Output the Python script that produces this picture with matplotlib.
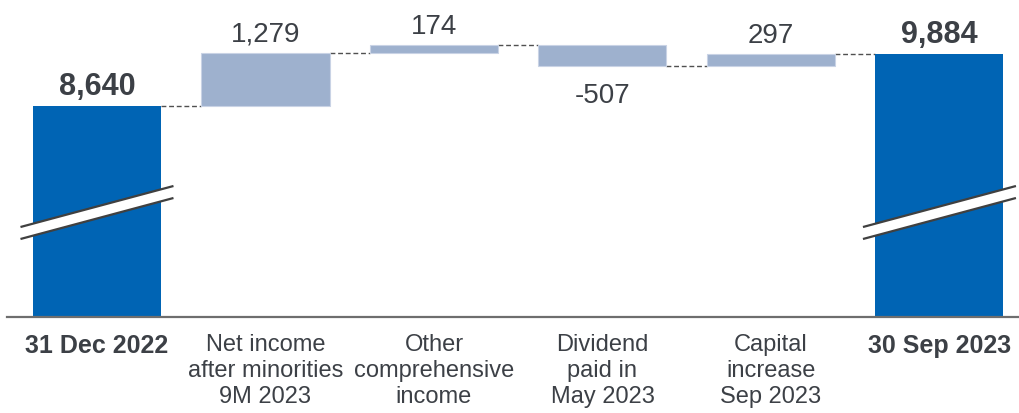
import matplotlib
matplotlib.use("Agg")
import matplotlib.pyplot as plt
from matplotlib.patches import Polygon
import numpy as np

plt.rcParams['font.family'] = ['Liberation Sans', 'DejaVu Sans']

# --- data -------------------------------------------------------------
categories = ["31 Dec 2022", "Net income\nafter minorities\n9M 2023",
              "Other\ncomprehensive\nincome", "Dividend\npaid in\nMay 2023",
              "Capital\nincrease\nSep 2023", "30 Sep 2023"]
start_value = 8640
deltas = [1279, 174, -507, 297]
end_value = 9884
value_labels = ["8,640", "1,279", "174", "-507", "297", "9,884"]

# --- styling ----------------------------------------------------------
BLUE = "#0064B4"
LIGHT = "#9EB1CE"
TEXT = "#3C4046"
W, H = 1020, 413
fig = plt.figure(figsize=(W / 100, H / 100), dpi=100)
ax = fig.add_axes([7 / W, 96 / H, 1013 / W, 317 / H])

y_min, y_max = 3592, 11176
ax.set_ylim(y_min, y_max)
ax.set_xlim(-0.534, 5.478)
bar_w = 0.76

x = np.arange(len(categories))

# totals
ax.bar(x[0], start_value - y_min, bottom=y_min, width=bar_w, color=BLUE, zorder=2)
ax.bar(x[-1], end_value - y_min, bottom=y_min, width=bar_w, color=BLUE, zorder=2)

# floating change bars
levels = [start_value]
for d in deltas:
    levels.append(levels[-1] + d)
for i, d in enumerate(deltas):
    lo = min(levels[i], levels[i + 1])
    ax.bar(x[i + 1], abs(d), bottom=lo, width=bar_w, color=LIGHT,
           edgecolor="#C9D3E5", linewidth=0.8, zorder=2)

# dashed connectors between consecutive bars
for i in range(len(x) - 1):
    lvl = levels[i] if i < len(levels) else end_value
    ax.plot([x[i] + bar_w / 2, x[i + 1] - bar_w / 2], [lvl, lvl],
            color="#505050", lw=1.0, dashes=(3.5, 2), zorder=1)

# value labels
tops = [start_value] + [max(levels[i], levels[i + 1]) for i in range(len(deltas))] + [end_value]
bottoms = [None] + [min(levels[i], levels[i + 1]) for i in range(len(deltas))] + [None]
for i, lab in enumerate(value_labels):
    bold = i in (0, len(x) - 1)
    if i in (1, 2, 3, 4) and deltas[i - 1] < 0:
        ax.annotate(lab, (x[i], bottoms[i]), xytext=(0, -26), textcoords="offset points",
                    ha="center", va="baseline", fontsize=20, color=TEXT)
    else:
        ax.annotate(lab, (x[i], tops[i]), xytext=(0, 8), textcoords="offset points",
                    ha="center", va="baseline", fontsize=22 if bold else 20,
                    fontweight="bold" if bold else "normal", color=TEXT)

# axis break marks on the total bars
half = 0.454
rise = 981
thick = 287
for xi in (x[0], x[-1]):
    yc = 6092
    x0, x1 = xi - half, xi + half
    y0u, y1u = yc - rise / 2 + thick / 2, yc + rise / 2 + thick / 2
    y0l, y1l = yc - rise / 2 - thick / 2, yc + rise / 2 - thick / 2
    ax.add_patch(Polygon([[x0, y0l], [x1, y1l], [x1, y1u], [x0, y0u]],
                         closed=True, facecolor="white", edgecolor="none", zorder=3))
    ax.plot([x0, x1], [y0u, y1u], color="#404040", lw=1.6, zorder=4, solid_capstyle="butt")
    ax.plot([x0, x1], [y0l, y1l], color="#404040", lw=1.6, zorder=4, solid_capstyle="butt")

# axes cosmetics
for s in ("top", "right", "left"):
    ax.spines[s].set_visible(False)
ax.spines["bottom"].set_color("#6E6E6E")
ax.spines["bottom"].set_linewidth(1.6)
ax.set_yticks([])
ax.set_xticks(x)
ax.set_xticklabels(categories, fontsize=17, color=TEXT, linespacing=1.25)
ax.tick_params(axis="x", length=0, pad=12)
for i, t in enumerate(ax.get_xticklabels()):
    if i in (0, len(x) - 1):
        t.set_fontweight("bold")
        t.set_fontsize(18)

fig.savefig("out.png", dpi=100)
